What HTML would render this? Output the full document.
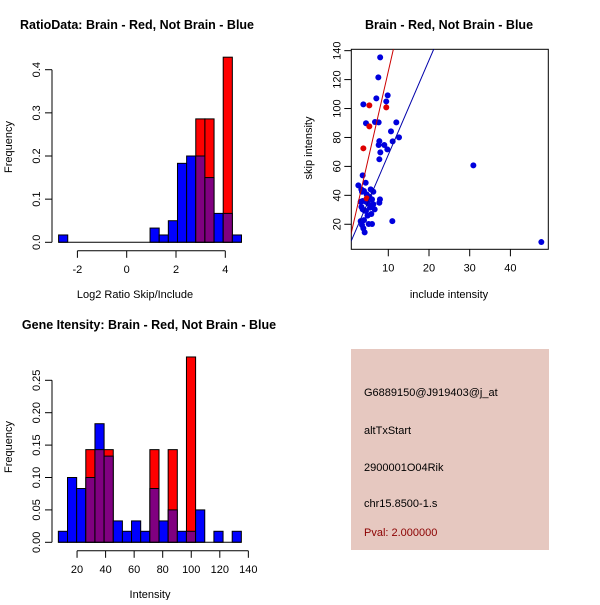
<!DOCTYPE html>
<html><head><meta charset="utf-8"><style>
body{margin:0;background:#fff}
svg text{font-family:"Liberation Sans",sans-serif}
</style></head><body>
<svg width="600" height="600" viewBox="0 0 600 600" xmlns="http://www.w3.org/2000/svg">
<rect width="600" height="600" fill="#fff"/>
<g id="h1"></g>
<g id="h2"></g>
<g id="sc"></g>
<text x="137" y="29" font-size="12.5" font-weight="bold" text-anchor="middle">RatioData: Brain - Red, Not Brain - Blue</text>
<text x="449" y="29" font-size="12.5" font-weight="bold" text-anchor="middle">Brain - Red, Not Brain - Blue</text>
<text x="149" y="329" font-size="12.5" font-weight="bold" text-anchor="middle">Gene Itensity: Brain - Red, Not Brain - Blue</text>
<text x="135" y="298" font-size="11" text-anchor="middle">Log2 Ratio Skip/Include</text>
<text x="150" y="598" font-size="11" text-anchor="middle">Intensity</text>
<text x="449" y="298" font-size="11" text-anchor="middle">include intensity</text>
<text transform="translate(12,147) rotate(-90)" font-size="11" text-anchor="middle">Frequency</text>
<text transform="translate(12,447) rotate(-90)" font-size="11" text-anchor="middle">Frequency</text>
<text transform="translate(312,148) rotate(-90)" font-size="11" text-anchor="middle">skip intensity</text>
<g>
<rect x="351" y="349" width="198" height="201" fill="#e6c8c0"/>
<text x="364" y="396" font-size="11">G6889150@J919403@j_at</text>
<text x="364" y="434" font-size="11">altTxStart</text>
<text x="364" y="471" font-size="11">2900001O04Rik</text>
<text x="364" y="507" font-size="11">chr15.8500-1.s</text>
<text x="364" y="536" font-size="11" fill="#8b0000">Pval: 2.000000</text>
</g>
</svg>
<script>
// Ratio histogram data
const ratioBinStart = -2.763, ratioBinWidth = 0.371;
const ratioBlue = [0.017,0,0,0,0,0,0,0,0,0,0.033,0.017,0.05,0.183,0.2,0.2,0.15,0.067,0.067,0.017];
const ratioRed  = [0,0,0,0,0,0,0,0,0,0,0,0,0,0,0,0.286,0.286,0,0.429,0];
const ratioXTicks = [-2,0,2,4];
const ratioYTicks = [0.0,0.1,0.2,0.3,0.4];
// Intensity histogram data
const intBinStart = 6.9, intBinWidth = 6.41;
const intBlue = [0.017,0.1,0.083,0.1,0.183,0.133,0.033,0.017,0.033,0.017,0.083,0.033,0.05,0.017,0.017,0.05,0,0.017,0,0.017];
const intRed  = [0,0,0,0.143,0.143,0.143,0,0,0,0,0.143,0,0.143,0,0.286,0,0,0,0,0];
const intXTicks = [20,40,60,80,100,120,140];
const intYTicks = ["0.00","0.05","0.10","0.15","0.20","0.25"];
// Scatter data
const blueX = [8.0,7.55,9.85,9.5,3.87,7.06,4.52,6.73,7.63,11.97,10.66,11.07,12.63,7.8,7.63,9.02,9.76,8.04,7.8,3.7,2.64,4.44,3.37,3.54,4.03,5.67,6.32,4.68,5.34,3.7,3.21,4.52,6.0,7.95,7.8,5.01,6.32,5.5,6.65,3.7,4.19,5.83,4.52,3.21,4.03,5.18,6.0,10.99,3.54,3.87,4.19,30.9,47.6,3.4,4.9];
const blueY = [135.4,121.5,109.1,104.9,102.9,107,89.8,90.7,90.4,90.4,84.2,77.3,80.1,77.5,74.8,74.8,71.8,69.7,64.9,53.8,46.9,48.7,44.1,42.5,43,44.1,42.5,40.7,39.1,36.1,35.6,35.6,37.2,37.2,34.9,34.5,33.8,31.5,30.3,30.3,29.4,27.1,29.2,22.2,22.9,20.2,20.2,22.2,19.5,17.2,14.4,60.7,7.7,32,26];
const redX = [5.34,9.5,5.34,3.87,4.68];
const redY = [102.2,100.8,87.7,72.5,37.9];
const fitRed = [2.9,12.28];   // intercept, slope
const fitBlue = [2.6,6.54];
const scXTicks = [10,20,30,40];
const scYTicks = [20,40,60,80,100,120,140];

const NS="http://www.w3.org/2000/svg";
function mk(p,tag,a){const e=document.createElementNS(NS,tag);for(const k in a)e.setAttribute(k,a[k]);p.appendChild(e);return e;}

function hist(g,bs,bw,blue,red,xs,ys,xt,yt,name,fmt){
  const base=ys(0);
  for(let i=0;i<blue.length;i++){
    const x0=xs(bs+i*bw),x1=xs(bs+(i+1)*bw);
    const b=blue[i],r=red[i];
    const hi=Math.max(b,r),lo=Math.min(b,r);
    const topCol=b>=r?'#0000ff':'#ff0000';
    const bar=mk(g,'rect',{x:x0,y:ys(hi),width:x1-x0,height:base-ys(hi),fill:topCol,stroke:'#000','stroke-width':1});
    
    
    if(lo>0){
      const ov=mk(g,'rect',{x:x0,y:ys(lo),width:x1-x0,height:base-ys(lo),fill:'#800080',stroke:'#000','stroke-width':1});
      
      
    }
  }
  mk(g,'line',{x1:xs(bs),x2:xs(bs+blue.length*bw),y1:base,y2:base,stroke:'#000'});
  const yv=yt.map(Number);
  const ax=mk(g,'g',{});
  
  
  mk(ax,'line',{x1:52,x2:52,y1:ys(yv[0]),y2:ys(yv[yv.length-1]),stroke:'#000'});
  yt.forEach(t=>{const y=ys(Number(t));mk(ax,'line',{x1:45,x2:52,y1:y,y2:y,stroke:'#000'});
    const tx=mk(ax,'text',{transform:`translate(40,${y}) rotate(-90)`,'font-size':11,'text-anchor':'middle'});tx.textContent=fmt(t);});
  const xa=mk(g,'g',{});
  
  
  const ay=base+8.5;
  mk(xa,'line',{x1:xs(xt[0]),x2:xs(xt[xt.length-1]),y1:ay,y2:ay,stroke:'#000'});
  xt.forEach(t=>{const x=xs(t);mk(xa,'line',{x1:x,x2:x,y1:ay,y2:ay+7,stroke:'#000'});
    const tx=mk(xa,'text',{x:x,y:ay+22,'font-size':11,'text-anchor':'middle'});tx.textContent=t;});
}
hist(document.getElementById('h1'),ratioBinStart,ratioBinWidth,ratioBlue,ratioRed,
  v=>126.7+v*24.65,v=>242.3-v*431.5,ratioXTicks,ratioYTicks,'ratio',t=>Number(t).toFixed(1));
hist(document.getElementById('h2'),intBinStart,intBinWidth,intBlue,intRed,
  v=>48.5+v*1.4275,v=>542.3-v*648,intXTicks,intYTicks,'intensity',t=>t);

const sg=document.getElementById('sc');
const sx=v=>347.6+v*4.07, sy=v=>253.2-v*1.4467;
const L=351.3,R=548.3,T=49.3,B=249.3;
mk(sg,'defs',{}).innerHTML='<clipPath id="cp"><rect x="'+L+'" y="'+T+'" width="'+(R-L)+'" height="'+(B-T)+'"/></clipPath>';
const box=mk(sg,'rect',{x:L,y:T,width:R-L,height:B-T,fill:'none',stroke:'#000'});


blueX.forEach((x,i)=>{const c=mk(sg,'circle',{cx:sx(x),cy:sy(blueY[i]),r:3,fill:'#0000dd'});
  
  });
redX.forEach((x,i)=>{const c=mk(sg,'circle',{cx:sx(x),cy:sy(redY[i]),r:3,fill:'#dd0000'});
  
  });
[[fitRed,'#cc0000','red-fit-line'],[fitBlue,'#0000aa','blue-fit-line']].forEach(([f,c,n])=>{
  const ln=mk(sg,'line',{x1:sx(0),y1:sy(f[0]),x2:sx(60),y2:sy(f[0]+f[1]*60),stroke:c,'clip-path':'url(#cp)'});
  
  });
scXTicks.forEach(t=>{const x=sx(t);mk(sg,'line',{x1:x,x2:x,y1:B,y2:B+7,stroke:'#000'});
  const tx=mk(sg,'text',{x:x,y:B+22,'font-size':11,'text-anchor':'middle'});tx.textContent=t;
  
  });
scYTicks.forEach(t=>{const y=sy(t);mk(sg,'line',{x1:L-7,x2:L,y1:y,y2:y,stroke:'#000'});
  const tx=mk(sg,'text',{transform:`translate(${L-11},${y}) rotate(-90)`,'font-size':11,'text-anchor':'middle'});tx.textContent=t;
  
  });
</script>
</body></html>
